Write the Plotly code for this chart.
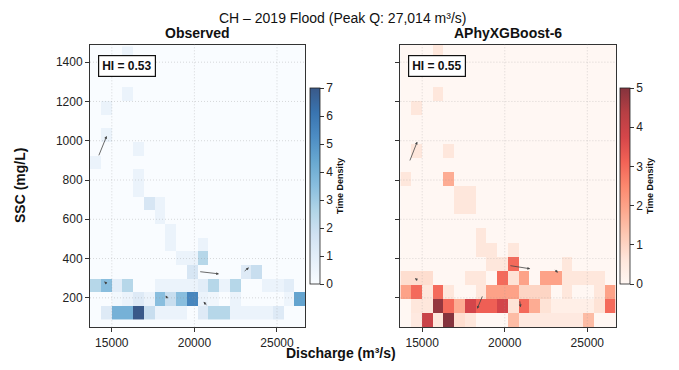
import numpy as np
import plotly.graph_objects as go

# ---------------- data ----------------
n_bins = 20
q_min, q_max = 13680, 26720            # discharge bin range (both panels)
obs_ssc_min, obs_ssc_max = 87.7, 1480  # observed SSC bin range
pred_ssc_min, pred_ssc_max = 50, 1490  # predicted SSC bin range

# observed time density, rows from lowest SSC bin upward, 20 discharge columns
obs_density = [
    [0, 1.2, 4, 4, 7, 2, 0.6, 0.6, 0.6, 0, 1.2, 2.5, 2.5, 0.6, 0.6, 0.6, 0.6, 1.2, 0, 0],
    [0, 0, 0.3, 0.6, 1.2, 0.6, 3.5, 2, 3.5, 5.5, 0.6, 0.4, 0, 0.6, 0, 0, 0, 0, 0.5, 4.5],
    [2.5, 3.5, 1, 2.5, 0, 0, 0.6, 0.6, 0.6, 0.6, 1, 2.5, 0.6, 2.5, 0, 0, 0.6, 0.6, 1, 0],
    [0, 0, 0, 0, 0, 0, 0, 0, 0, 1.5, 0, 0, 0, 0, 1.2, 2, 0, 0, 0, 0],
    [0, 0, 0, 0, 0, 0, 0, 0, 0.6, 0.6, 2.5, 0, 0, 0, 0, 0, 0, 0, 0, 0],
    [0, 0, 0, 0, 0, 0, 0, 0.6, 0, 0, 0.6, 0, 0, 0, 0, 0, 0, 0, 0, 0],
    [0, 0, 0, 0, 0, 0, 0, 0.6, 0, 0, 0, 0, 0, 0, 0, 0, 0, 0, 0, 0],
    [0, 0, 0, 0, 0, 0, 0.6, 0, 0, 0, 0, 0, 0, 0, 0, 0, 0, 0, 0, 0],
    [0, 0, 0, 0, 0, 1.5, 0.6, 0, 0, 0, 0, 0, 0, 0, 0, 0, 0, 0, 0, 0],
    [0, 0, 0, 0, 0.6, 0, 0, 0, 0, 0, 0, 0, 0, 0, 0, 0, 0, 0, 0, 0],
    [0, 0, 0, 0, 0.6, 0, 0, 0, 0, 0, 0, 0, 0, 0, 0, 0, 0, 0, 0, 0],
    [0.6, 0, 0, 0, 0, 0, 0, 0, 0, 0, 0, 0, 0, 0, 0, 0, 0, 0, 0, 0],
    [0, 0, 0, 0, 0.6, 0, 0, 0, 0, 0, 0, 0, 0, 0, 0, 0, 0, 0, 0, 0],
    [0, 0.6, 0, 0, 0, 0, 0, 0, 0, 0, 0, 0, 0, 0, 0, 0, 0, 0, 0, 0],
    [0, 0, 0, 0, 0, 0, 0, 0, 0, 0, 0, 0, 0, 0, 0, 0, 0, 0, 0, 0],
    [0, 0.6, 0, 0, 0, 0, 0, 0, 0, 0, 0, 0, 0, 0, 0, 0, 0, 0, 0, 0],
    [0, 0, 0, 0.6, 0, 0, 0, 0, 0, 0, 0, 0, 0, 0, 0, 0, 0, 0, 0, 0],
    [0, 0, 0, 0, 0, 0, 0, 0, 0, 0, 0, 0, 0, 0, 0, 0, 0, 0, 0, 0],
    [0, 0, 0, 0, 0, 0, 0, 0, 0, 0, 0, 0, 0, 0, 0, 0, 0, 0, 0, 0],
    [0, 0, 0, 0.6, 0, 0, 0, 0, 0, 0, 0, 0, 0, 0, 0, 0, 0, 0, 0, 0],
]

pred_density = [
    [0, 0.5, 4, 0.6, 5, 0.8, 0.6, 0, 0, 0, 1.5, 0.5, 0.5, 0.5, 0.5, 0.5, 0.5, 1.5, 0, 0],
    [0, 0.6, 0.6, 4.8, 3, 1.8, 3.8, 3.2, 3.2, 3.8, 0.7, 3, 1.8, 0.7, 0.3, 0.3, 0.3, 0.3, 0.7, 3],
    [2, 3, 0.6, 3, 0.6, 0, 0, 0.6, 2, 2, 2, 1, 1, 1, 0, 0.6, 0, 0, 0.6, 2],
    [0.8, 0.8, 0.8, 0, 0, 0, 0.6, 0.6, 0, 3, 0.7, 2, 0, 2, 2, 0.6, 0.6, 0.6, 0.6, 0],
    [0, 0, 0, 0, 0, 0, 0, 0, 0.6, 0.6, 3, 0, 0, 0, 0, 0.6, 0, 0, 0, 0],
    [0, 0, 0, 0, 0, 0, 0, 0.6, 0.6, 0, 0.6, 0, 0, 0, 0, 0, 0, 0, 0, 0],
    [0, 0, 0, 0, 0, 0, 0, 0.6, 0, 0, 0, 0, 0, 0, 0, 0, 0, 0, 0, 0],
    [0, 0, 0, 0, 0, 0, 0, 0, 0, 0, 0, 0, 0, 0, 0, 0, 0, 0, 0, 0],
    [0, 0, 0, 0, 0, 0.6, 0.6, 0, 0, 0, 0, 0, 0, 0, 0, 0, 0, 0, 0, 0],
    [0, 0, 0, 0, 0, 0.6, 0.6, 0, 0, 0, 0, 0, 0, 0, 0, 0, 0, 0, 0, 0],
    [0.6, 0, 0, 0, 1.8, 0, 0, 0, 0, 0, 0, 0, 0, 0, 0, 0, 0, 0, 0, 0],
    [0, 0, 0, 0, 0, 0, 0, 0, 0, 0, 0, 0, 0, 0, 0, 0, 0, 0, 0, 0],
    [0, 0.6, 0, 0, 0.6, 0, 0, 0, 0, 0, 0, 0, 0, 0, 0, 0, 0, 0, 0, 0],
    [0, 0, 0, 0, 0, 0, 0, 0, 0, 0, 0, 0, 0, 0, 0, 0, 0, 0, 0, 0],
    [0, 0, 0, 0, 0, 0, 0, 0, 0, 0, 0, 0, 0, 0, 0, 0, 0, 0, 0, 0],
    [0, 0.6, 0, 0, 0, 0, 0, 0, 0, 0, 0, 0, 0, 0, 0, 0, 0, 0, 0, 0],
    [0, 0, 0, 0.6, 0, 0, 0, 0, 0, 0, 0, 0, 0, 0, 0, 0, 0, 0, 0, 0],
    [0, 0, 0, 0, 0, 0, 0, 0, 0, 0, 0, 0, 0, 0, 0, 0, 0, 0, 0, 0],
    [0, 0, 0, 0, 0, 0, 0, 0, 0, 0, 0, 0, 0, 0, 0, 0, 0, 0, 0, 0],
    [0, 0, 0, 0.6, 0, 0, 0, 0, 0, 0, 0, 0, 0, 0, 0, 0, 0, 0, 0, 0],
]

obs_vmax, pred_vmax = 7, 5
obs_hi, pred_hi = 0.53, 0.55

# trajectory arrows: tail (q, ssc) -> head (q, ssc)
obs_arrow_q0 = [14180, 14780, 18420, 20260, 22950, 20800]
obs_arrow_s0 = [918, 266, 190, 334, 330, 155]
obs_arrow_q1 = [14690, 14540, 18260, 21490, 23300, 20560]
obs_arrow_s1 = [1024, 283, 212, 322, 355, 180]

pred_arrow_q0 = [14220, 14790, 18680, 20250, 22960, 20900]
pred_arrow_s0 = [892, 285, 215, 365, 350, 190]
pred_arrow_q1 = [14700, 14560, 18330, 21540, 23220, 20960]
pred_arrow_s1 = [995, 300, 144, 348, 328, 152]

x_ticks = [15000, 20000, 25000]
y_ticks = [200, 400, 600, 800, 1000, 1200, 1400]
cbar_obs_ticks = [0, 1, 2, 3, 4, 5, 6, 7]
cbar_pred_ticks = [0, 1, 2, 3, 4, 5]

title = "CH – 2019 Flood (Peak Q: 27,014 m³/s)"
panel_titles = ["Observed", "APhyXGBoost-6"]

# ---------------- styling helpers ----------------
FONT = "Liberation Sans, Arial, sans-serif"
BLUES = ["#f7fbff", "#deebf7", "#c6dbef", "#9ecae1", "#6baed6",
         "#4292c6", "#2171b5", "#08519c", "#08306b"]
REDS = ["#fff5f0", "#fee0d2", "#fcbba1", "#fc9272", "#fb6a4a",
        "#ef3b2c", "#cb181d", "#a50f15", "#67000d"]


def blend(hexc, alpha=0.8):
    h = hexc.lstrip("#")
    r, g, b = (int(h[i:i + 2], 16) for i in (0, 2, 4))
    f = lambda c: int(round(alpha * c + (1 - alpha) * 255))
    return f"rgb({f(r)},{f(g)},{f(b)})"


def scale(colors):
    n = len(colors) - 1
    return [[i / n, blend(c)] for i, c in enumerate(colors)]


q_edges = np.linspace(q_min, q_max, n_bins + 1)
obs_edges = np.linspace(obs_ssc_min, obs_ssc_max, n_bins + 1)
pred_edges = np.linspace(pred_ssc_min, pred_ssc_max, n_bins + 1)

y_range = [min(obs_ssc_min, pred_ssc_min), max(obs_ssc_max, pred_ssc_max)]
x_range = [q_min, q_max]

# page body has an 8px margin: figure spans window pixels [8, 679] x [8, 370]
OFF = 8
W, H = 679 - OFF, 370 - OFF


def fx(px):
    return (px - OFF) / W


def fy(py):
    return (H - (py - OFF)) / H


dom_left = [fx(90), fx(305.4)]
dom_right = [fx(400.4), fx(615.7)]
dom_y = [fy(327.3), fy(44.5)]

fig = go.Figure()

cb_common = dict(
    thickness=9.5, thicknessmode="pixels",
    len=(284 - 88) / H, lenmode="fraction",
    y=fy(186), yanchor="middle", xanchor="left",
    xpad=0, ypad=0,
    outlinecolor="#222", outlinewidth=0.8,
    ticks="outside", ticklen=4, tickcolor="#333", tickwidth=1,
    tickfont=dict(family=FONT, size=12, color="#222"),
    title=dict(text="<b>Time Density</b>", side="right",
               font=dict(family=FONT, size=9, color="#111")),
)

fig.add_trace(go.Heatmap(
    x=q_edges, y=obs_edges, z=obs_density,
    zmin=0, zmax=obs_vmax, colorscale=scale(BLUES),
    xaxis="x", yaxis="y", hoverinfo="skip",
    colorbar=dict(x=fx(310), tickvals=cbar_obs_ticks, **cb_common),
))
fig.add_trace(go.Heatmap(
    x=q_edges, y=pred_edges, z=pred_density,
    zmin=0, zmax=pred_vmax, colorscale=scale(REDS),
    xaxis="x2", yaxis="y2", hoverinfo="skip",
    colorbar=dict(x=fx(620), tickvals=cbar_pred_ticks, **cb_common),
))

axis_common = dict(
    showline=True, mirror=True, linecolor="#333", linewidth=1,
    ticks="outside", ticklen=4, tickcolor="#333", tickwidth=1,
    showgrid=False, zeroline=False,
    tickfont=dict(family=FONT, size=12, color="#222"),
)

fig.update_layout(
    width=W, height=H,
    margin=dict(l=0, r=0, t=0, b=0),
    paper_bgcolor="white",
    plot_bgcolor=blend(BLUES[0]),
    showlegend=False,
    xaxis=dict(domain=dom_left, range=x_range, tickvals=x_ticks, tickformat="d",
               anchor="y", **axis_common),
    yaxis=dict(domain=dom_y, range=y_range, tickvals=y_ticks, anchor="x", **axis_common),
    xaxis2=dict(domain=dom_right, range=x_range, tickvals=x_ticks, tickformat="d",
                anchor="y2", **axis_common),
    yaxis2=dict(domain=dom_y, range=y_range, tickvals=y_ticks, anchor="x2",
                showticklabels=False, **axis_common),
)

GRID = dict(color="rgba(150,150,150,0.45)", width=0.8, dash="1px,2px")
shapes = []
shapes.append(dict(type="rect", xref="x2 domain", yref="y2 domain", x0=0, x1=1, y0=0, y1=1,
                   fillcolor=blend(REDS[0]), line=dict(width=0), layer="below"))
for xa, ya in (("x", "y"), ("x2", "y2")):
    for t in x_ticks:
        shapes.append(dict(type="line", xref=xa, yref=f"{ya} domain", x0=t, x1=t, y0=0, y1=1,
                           line=GRID, layer="above"))
    for t in y_ticks:
        shapes.append(dict(type="line", xref=f"{xa} domain", yref=ya, x0=0, x1=1, y0=t, y1=t,
                           line=GRID, layer="above"))
fig.update_layout(shapes=shapes)

ann = []
for xa, ya, q0s, s0s, q1s, s1s in (
    ("x", "y", obs_arrow_q0, obs_arrow_s0, obs_arrow_q1, obs_arrow_s1),
    ("x2", "y2", pred_arrow_q0, pred_arrow_s0, pred_arrow_q1, pred_arrow_s1),
):
    for q0, s0, q1, s1 in zip(q0s, s0s, q1s, s1s):
        ann.append(dict(xref=xa, yref=ya, axref=xa, ayref=ya,
                        x=q1, y=s1, ax=q0, ay=s0, text="",
                        showarrow=True, arrowhead=2, arrowsize=0.7,
                        arrowwidth=0.8, arrowcolor="#444"))

for xa, ya, hi in (("x", "y", obs_hi), ("x2", "y2", pred_hi)):
    ann.append(dict(xref=f"{xa} domain", yref=f"{ya} domain", x=0.035, y=0.962,
                    xanchor="left", yanchor="top", showarrow=False,
                    text=f"<b>HI = {hi:.2f}</b>",
                    font=dict(family=FONT, size=12, color="#111"),
                    bgcolor="white", bordercolor="#111", borderwidth=1.2, borderpad=3))

for dom, t in ((dom_left, panel_titles[0]), (dom_right, panel_titles[1])):
    ann.append(dict(xref="paper", yref="paper", x=(dom[0] + dom[1]) / 2, y=fy(33),
                    xanchor="center", yanchor="middle", showarrow=False,
                    text=f"<b>{t}</b>", font=dict(family=FONT, size=14, color="#111")))

ann.append(dict(xref="paper", yref="paper", x=fx(342), y=1,
                xanchor="center", yanchor="top", showarrow=False,
                text=title, font=dict(family=FONT, size=14, color="#111")))
ann.append(dict(xref="paper", yref="paper", x=fx(341), y=fy(353),
                xanchor="center", yanchor="middle", showarrow=False,
                text="<b>Discharge (m³/s)</b>", font=dict(family=FONT, size=14, color="#111")))
ann.append(dict(xref="paper", yref="paper", x=fx(20), y=fy(186),
                xanchor="center", yanchor="middle", showarrow=False, textangle=-90,
                text="<b>SSC (mg/L)</b>", font=dict(family=FONT, size=14, color="#111")))

fig.update_layout(annotations=ann)
fig.write_html("out.html")
